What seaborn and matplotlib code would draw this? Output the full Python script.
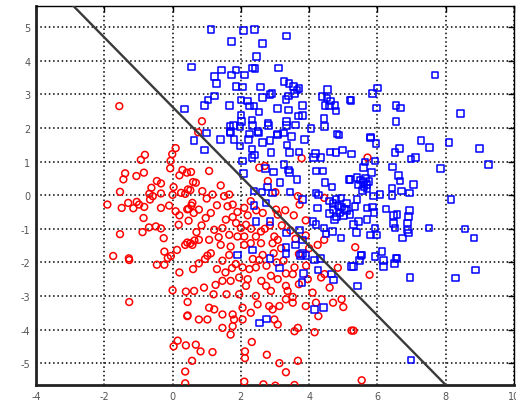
import matplotlib
matplotlib.use("Agg")
import matplotlib.pyplot as plt
import seaborn as sns
import numpy as np
import pandas as pd

# ---- data ----
red_x = [0.86, -1.56, 0.75,
         0.09, -0.01, -0.06, -0.81, -0.93, -0.07, -1.39, -1.44, -1.06, -0.84, 0.29, 0.42, 0.54, 0.2, 0.6,
         -0.46, -0.34, 0.03, 0.45, -0.62, -0.68, -0.58, -0.34, -1.54, 0.0, 0.25, 0.37, 0.52, -1.91, -1.49,
         -1.3, -1.15, -1.05, -0.83, -0.98, -0.66, -0.34, -0.1, 0.09, 0.2, 0.47, 0.55, 0.62, -0.85, 0.47,
         -0.49, -0.69, -0.34, 0.18, -1.54, -0.88, -0.26, -0.24, -1.74, -1.28, 0.13, 0.37, 0.52, 0.64, -0.05,
         1.07, 1.41, 0.68, 0.87, 1.17, 1.51, 1.66, 0.58, 0.77, 0.97, 1.12, 1.61, 1.76, 2.1, 2.29, 1.56, 1.76,
         1.86, 2.0, 2.15, 1.22, 1.46, 1.07, 0.77, 1.66, 1.9, 2.1, 2.44, 2.59, 2.98, 1.41, 1.7, 2.1, 2.29,
         2.59, 2.93, 3.08, 3.18, 0.58, 1.12, 1.66, 2.64, 2.96, 4.0, 4.25, 4.44, 3.67, 2.7, 2.54, 2.79, 3.01,
         3.03, 3.72, 3.08, 2.64, 3.78, 4.44, 5.71, 5.35,
         -1.27, -0.46, -0.24, -0.14, -1.27, 0.0, 0.39, 0.44, 0.44, 0.03, 0.15, 0.39, 0.57, 0.37, 0.37,
         0.77, 1.02, 1.46, 1.74, 1.85, 2.05, 2.25, 2.44, 2.54, 2.2, 2.15, 2.88, 3.08, 3.32, 3.52, 3.57, 3.91,
         4.35, 4.45, 4.6, 3.96, 2.74, 3.32, 1.46, 1.7, 1.26, 0.92, 0.63, 1.2, 1.58, 1.95, 2.44, 2.88, 3.37,
         3.52, 1.07, 1.22, 2.05, 2.49, 2.83, 2.93, 3.13, 3.32, 3.52, 4.2, 4.7, 5.0, 1.46, 1.76, 1.8, 2.05,
         1.76, 1.46, 1.7, 0.77, 1.02, 2.29, 2.98, 3.08, 3.67, 3.57, 4.16, 5.24, 0.68, 0.82, 1.17, 2.32, 2.12,
         2.12, 2.76, 3.13, 3.67, 3.32, 2.1, 2.66, 3.01, 3.57,
         5.77, 5.3, 5.54, 0.43, 0.43, 0.43,
         1.3, 1.0, 1.9, 2.2, 2.45, 2.3, 2.7, 2.85, 3.2, 3.45, 3.3, 3.55, 3.9, 3.6, 3.9, 2.75, 3.05, 3.25,
         3.7, 2.35, 1.3, 1.55, 1.95, 2.6, 3.7, 4.1, 3.9, 0.85, 0.7, 1.35, 0.95, 0.2, 0.6,
         4.84, 4.95, 4.27]
red_y = [2.2, 2.65, 1.87,
         1.4, 1.22, 1.02, 1.2, 1.05, 0.8, 0.65, 0.47, 0.57, 0.67, 0.75, 0.67, 0.69, 0.59, 0.39,
         0.42, 0.35, 0.24, 0.17, 0.22, 0.04, -0.03, 0.05, 0.1, 0.01, 0.07, 0.04, 0.15, -0.28, -0.38,
         -0.23, -0.39, -0.2, -0.35, -0.28, -0.13, -0.38, -0.31, -0.48, -0.6, -0.41, -0.31, -0.53, -0.68, -0.76,
         -0.93, -0.96, -0.99, -0.88, -1.16, -1.1, -1.28, -1.68, -1.81, -1.88, -1.63, -1.48, -1.43, -1.35, -1.81,
         0.72, 0.29, 0.37, 0.12, 0.02, -0.03, 0.02, -0.23, -0.43, -0.68, -0.53, -0.33, -0.28, -0.38, -0.18, -0.73, -0.65,
         -0.83, -0.98, -0.88, -1.03, -0.98, -1.33, -1.33, -1.18, -1.23, -1.23, -1.23, -1.08, -1.23, -1.48, -1.53, -1.48, -1.43,
         -1.43, -1.43, -1.33, -1.58, -1.48, -1.73, -1.78, -1.78, -1.73, -1.58, -1.48, -1.33, -0.03, 0.87, 0.82, 0.42, 0.09,
         -0.43, -0.28, -0.58, -0.53, 1.1, -0.08, 1.12, -1.55,
         -1.93, -2.07, -2.07, -1.87, -3.18, -2.83, -2.87, -3.18, -3.58, -4.5, -4.33, -4.47, -4.93, -5.25, -5.6,
         -2.03, -1.8, -1.95, -2.17, -2.05, -2.15, -2.2, -2.15, -1.93, -2.5, -2.7, -2.4, -2.5, -2.33, -2.35, -2.15, -2.1,
         -2.45, -2.35, -2.75, -2.5, -2.7, -2.7, -2.55, -2.55, -2.67, -2.75, -2.85, -2.95, -2.95, -2.95, -3.0, -2.85, -2.85,
         -3.03, -3.35, -3.4, -3.35, -3.25, -3.3, -3.4, -3.3, -3.1, -3.2, -3.2, -3.2, -3.33, -3.55, -3.55, -3.7, -3.7,
         -3.9, -3.95, -4.15, -3.7, -3.7, -3.5, -3.7, -3.85, -3.95, -4.05, -4.08, -4.03, -4.45, -4.65, -4.67, -4.37, -4.65,
         -4.85, -4.75, -5.0, -4.93, -5.27, -5.55, -5.63, -5.67, -5.65,
         -2.37, -4.03, -5.51, -0.42, -1.41, -3.6,
         -0.3, -0.1, -0.5, -0.6, -0.45, -1.0, -1.0, -0.9, -0.9, -1.05, -0.45, -0.6, -0.75, -1.3, -1.2, -2.1, -2.0, -1.95,
         -1.75, -1.9, -2.2, -2.3, -2.45, -2.55, -2.65, -2.9, -3.3, -0.9, -1.1, -1.25, -1.9, -2.3, -2.2,
         -2.16, -3.1, -3.6]

blue_x = [1.12, 2.08, 2.4, 3.33, 1.72, 2.63, 2.46, 0.56, 1.43, 1.86, 2.34, 2.41, 3.1, 1.72, 2.1, 1.23, 1.29, 1.86,
          2.05, 2.57, 3.26, 3.41, 3.54, 3.64, 3.7, 3.57, 1.23, 1.04, 0.93, 1.66, 2.0, 2.19, 2.25, 2.39, 2.63, 2.85,
          2.91, 3.4, 3.32, 3.08, 3.39, 3.81, 2.53, 2.0, 2.02, 3.69, 3.81, 4.54, 4.37, 4.53, 4.63, 4.47, 4.6, 4.76,
          4.79, 5.2, 4.43, 1.79, 1.68, 1.98, 2.32, 2.34, 2.79, 2.81, 3.33, 3.33, 3.6, 4.05, 4.45, 4.82, 3.07, 1.68,
          2.5, 1.0, 0.35,
          7.69, 6.0, 5.85, 5.22, 5.98, 6.55, 6.68, 6.55, 8.43, 5.8,
          0.63, 0.94, 1.7, 1.41, 1.8, 1.97, 2.23, 2.25, 2.51, 2.32, 2.4, 2.64, 2.86, 2.88, 3.08, 3.25, 3.35, 3.49,
          3.42, 3.7, 3.87, 4.19, 4.13, 4.35, 4.61, 4.79, 4.98, 4.88, 5.24, 2.05, 2.32, 2.72, 2.96, 3.27, 3.39, 3.42,
          3.64, 2.08, 3.15, 4.2, 4.4, 4.47, 5.17, 4.67, 3.44, 2.39, 2.78, 2.62, 2.93, 4.2, 4.25, 3.81, 2.39, 2.74,
          4.6, 4.79, 4.94, 5.09, 4.7, 4.9, 5.04, 5.19, 4.75, 4.11, 2.44, 2.86, 3.34, 3.72, 4.2, 4.44, 4.49, 4.68,
          4.94, 2.34, 1.9, 2.86, 3.32, 3.32, 3.6, 3.81, 3.81, 4.28,
          4.85, 4.95, 5.0, 4.8, 4.6, 5.1, 4.7,
          5.8, 5.96, 7.28, 7.52, 8.1, 8.99, 6.52, 6.64, 6.99, 7.12, 5.93, 5.64, 5.59, 5.83, 6.44, 7.85, 9.25, 6.61,
          6.66, 7.05, 5.4, 5.59, 5.69, 5.57, 5.2, 6.42, 6.71, 6.94, 6.42, 6.08, 5.88, 8.15, 5.4, 5.34, 5.69, 5.86,
          5.9, 6.25, 6.47, 6.57, 6.94, 6.91, 6.88, 5.69, 5.44, 5.3, 6.52, 6.47, 5.93, 5.38, 5.79, 5.98, 6.88, 6.91,
          6.74, 7.51, 8.57, 8.83, 6.13, 5.54, 5.93, 6.54,
          5.5, 5.65, 5.75, 5.6, 5.45, 5.7,
          3.13, 3.75, 3.91, 4.16, 4.33, 4.26, 3.79, 3.84, 4.65, 4.72, 5.24, 4.16, 4.42, 2.54, 2.75,
          5.52, 6.18, 6.18, 6.5, 6.57, 5.3, 5.47, 5.41, 6.96, 8.28, 8.87, 6.99]
blue_y = [4.93, 4.9, 4.93, 4.74, 4.58, 4.52, 4.12, 3.82, 3.72, 3.72, 3.78, 3.77, 3.79, 3.58, 3.58, 3.53, 3.33, 3.24,
          3.22, 3.22, 3.38, 3.32, 3.23, 3.13, 3.17, 3.03, 2.95, 2.83, 2.67, 2.67, 2.83, 2.8, 2.65, 2.65, 2.9, 2.99,
          3.02, 2.95, 2.85, 2.58, 2.54, 2.67, 2.47, 2.39, 2.2, 2.35, 2.37, 3.15, 2.93, 2.89, 2.8, 2.67, 2.65, 2.67,
          2.5, 2.83, 2.28, 2.08, 2.05, 2.05, 2.23, 2.08, 2.15, 2.08, 2.2, 2.07, 2.09, 1.99, 2.04, 1.82, 1.82, 1.87,
          1.9, 1.85, 2.56,
          3.58, 3.19, 3.03, 2.82, 2.6, 2.67, 2.6, 2.19, 2.43, 1.73,
          1.62, 1.34, 1.89, 1.65, 1.65, 1.47, 1.65, 1.82, 1.85, 1.37, 1.19, 1.57, 1.62, 1.27, 1.79, 1.85, 1.49, 1.75,
          1.27, 1.29, 1.65, 1.24, 1.12, 1.12, 1.29, 1.27, 1.35, 1.79, 1.22, 1.02, 1.12, 0.8, 0.69, 0.92, 0.75, 0.67,
          0.47, 0.64, 0.37, 0.72, 0.72, 0.37, 0.47, 0.24, 0.1, 0.12, 0.25, 0.09, 0.07, 0.07, -0.38, -0.13, -0.31, -0.23,
          -0.18, -0.13, -0.08, -0.23, -0.43, -0.53, -0.43, -0.58, -0.73, -0.78, -0.78, -0.78, -1.13, -1.03, -0.88, -0.98, -1.15, -1.08,
          -1.28, -1.63, -1.78, -1.88, -1.55, -1.73, -1.48, -1.33, -1.73, 0.0,
          -0.3, -0.35, -0.6, -0.65, -0.55, -0.45, -0.25,
          1.7, 1.54, 1.62, 1.42, 1.57, 1.39, 1.27, 1.39, 1.07, 1.12, 1.02, 0.99, 0.82, 0.67, 0.84, 0.8, 0.92, 0.59,
          0.42, 0.32, 0.52, 0.37, 0.32, 0.14, 0.47, 0.22, 0.12, 0.07, -0.01, 0.02, -0.03, -0.13, -0.13, -0.33, -0.38, -0.35,
          -0.51, -0.41, -0.61, -0.58, -0.45, -0.63, -0.83, -0.73, -0.78, -0.88, -0.98, -0.85, -0.98, -1.11, -1.18, -1.18, -1.03, -1.13,
          -1.28, -0.98, -1.01, -1.28, -1.68, -1.78, -1.83, -1.88,
          0.45, 0.5, 0.4, 0.25, 0.3, 0.2,
          -2.17, -1.8, -1.8, -1.93, -1.89, -2.23, -2.6, -2.33, -2.35, -2.53, -2.13, -3.4, -3.35, -3.8, -3.68,
          -1.8, -1.95, -2.13, -2.03, -1.87, -2.13, -1.95, -2.7, -2.45, -2.47, -2.23, -4.91]

line_x = [-3.0, 8.0]
line_y = [5.73, -5.65]

x_ticks = [-4, -2, 0, 2, 4, 6, 8, 10]
y_ticks = [-5, -4, -3, -2, -1, 0, 1, 2, 3, 4, 5]

red_df = pd.DataFrame({"x": red_x, "y": red_y})
blue_df = pd.DataFrame({"x": blue_x, "y": blue_y})
line_df = pd.DataFrame({"x": line_x, "y": line_y})

sns.set_style("white")
plt.rcParams["font.family"] = ["DejaVu Sans"]

fig = plt.figure(figsize=(5.16, 4.02), dpi=100)
ax = fig.add_axes([36 / 516, 16 / 402, 478 / 516, 379 / 402])

sns.scatterplot(data=red_df, x="x", y="y", ax=ax, marker="o", s=24,
                facecolor="none", edgecolor="#ff0000", linewidth=1.1, zorder=3)
sns.scatterplot(data=blue_df, x="x", y="y", ax=ax, marker="s", s=22,
                facecolor="none", edgecolor="#0000ff", linewidth=1.1, zorder=4)
sns.lineplot(data=line_df, x="x", y="y", ax=ax, color="#3a3a3a", linewidth=1.7,
             zorder=5, sort=False)

ax.set_xlim(-4, 10)
ax.set_ylim(-5.65, 5.63)
ax.set_xticks(x_ticks)
ax.set_yticks(y_ticks)
ax.set_xticklabels([str(v) for v in x_ticks])
ax.set_yticklabels([str(v) for v in y_ticks])
ax.set_xlabel("")
ax.set_ylabel("")

ax.grid(True, color="black", linestyle=(0, (1, 1.8)), linewidth=1.1, zorder=0)
ax.set_axisbelow(True)

ax.tick_params(direction="in", length=4, width=1, colors="black",
               labelsize=7, labelcolor="#555555", pad=4,
               top=True, right=True)
for side in ["top", "right"]:
    ax.spines[side].set_linewidth(1.0)
    ax.spines[side].set_color("black")
for side in ["left", "bottom"]:
    ax.spines[side].set_linewidth(2.0)
    ax.spines[side].set_color("#222222")

fig.savefig("out.png", dpi=100)
